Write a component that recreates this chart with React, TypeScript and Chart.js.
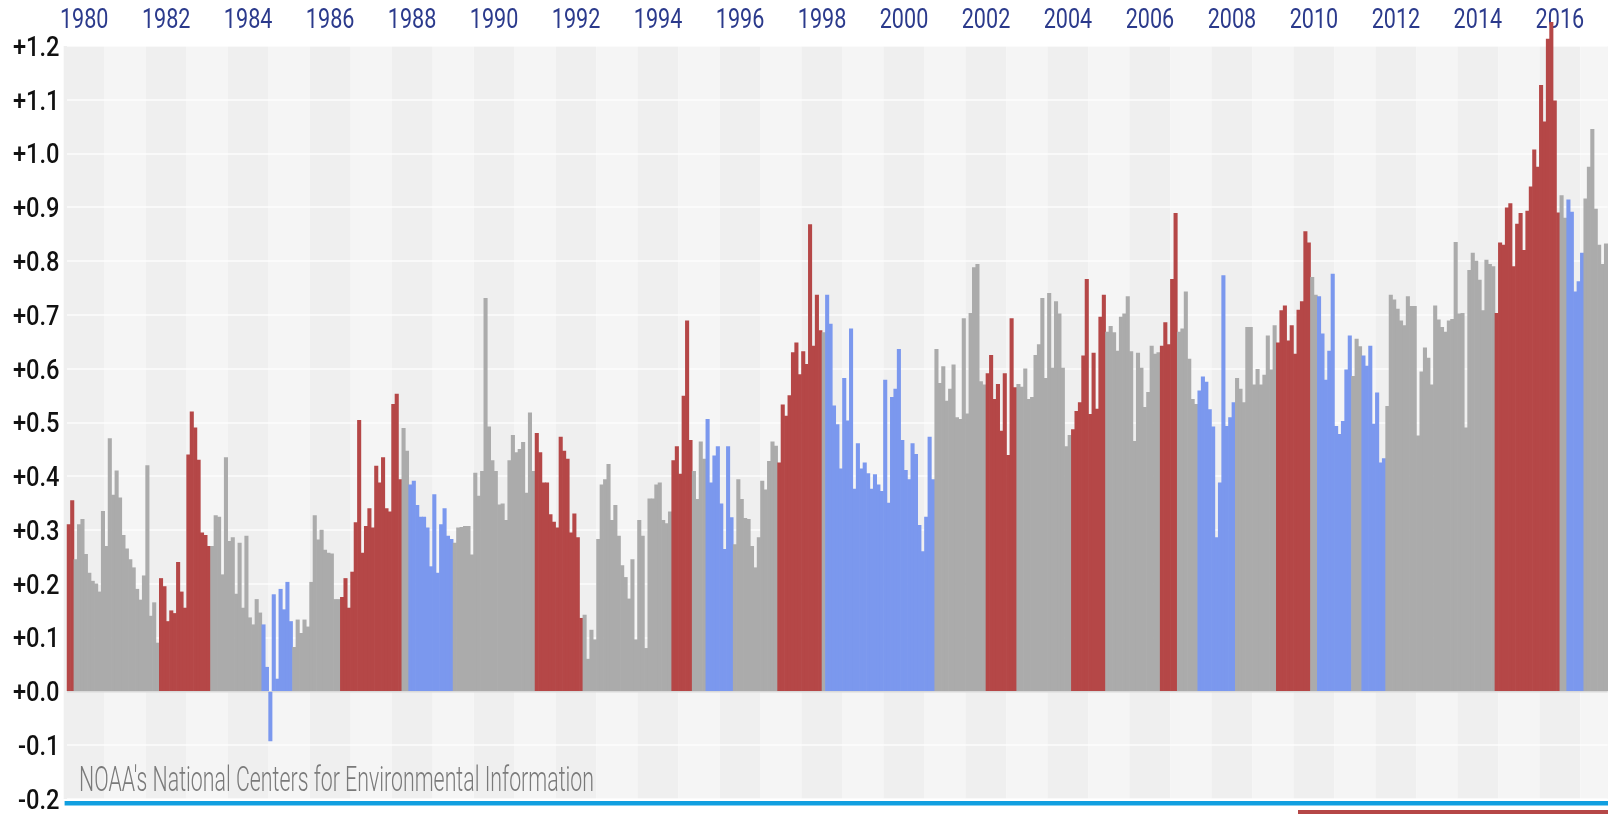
import React, { useEffect, useRef } from "react";
import { Chart, registerables } from "chart.js";

Chart.register(...registerables);

// Global land+ocean monthly temperature anomalies (°C), Jan 1980 onward
const FIRST_YEAR = 1980;

const anomalies1980s = [
  0.31, 0.355, 0.245, 0.31, 0.32, 0.255, 0.22, 0.205, 0.2, 0.185, 0.335, 0.27,
  0.47, 0.365, 0.41, 0.36, 0.29, 0.265, 0.245, 0.23, 0.19, 0.17, 0.215, 0.42,
  0.14, 0.165, 0.09, 0.21, 0.195, 0.13, 0.15, 0.145, 0.24, 0.185, 0.155, 0.44,
  0.52, 0.49, 0.43, 0.295, 0.29, 0.27, 0.27, 0.327, 0.324, 0.217, 0.435, 0.279,
  0.286, 0.181, 0.276, 0.155, 0.289, 0.137, 0.124, 0.171, 0.146, 0.124, 0.045, -0.092,
  0.18, 0.023, 0.19, 0.152, 0.203, 0.13, 0.082, 0.133, 0.108, 0.133, 0.12, 0.203,
  0.327, 0.282, 0.3, 0.263, 0.257, 0.256, 0.171, 0.171, 0.175, 0.21, 0.155, 0.222,
  0.314, 0.504, 0.257, 0.307, 0.34, 0.304, 0.419, 0.388, 0.435, 0.34, 0.334, 0.534,
  0.553, 0.394, 0.489, 0.447, 0.384, 0.391, 0.346, 0.324, 0.324, 0.304, 0.232, 0.366,
  0.22, 0.31, 0.34, 0.289, 0.283, 0.276, 0.304, 0.305, 0.307, 0.307, 0.254, 0.406,
];

const anomalies1990s = [
  0.363, 0.409, 0.731, 0.492, 0.429, 0.409, 0.347, 0.349, 0.318, 0.429, 0.476, 0.444,
  0.45, 0.463, 0.369, 0.518, 0.409, 0.48, 0.444, 0.388, 0.388, 0.329, 0.315, 0.304,
  0.473, 0.447, 0.432, 0.295, 0.33, 0.286, 0.136, 0.142, 0.06, 0.114, 0.096, 0.283,
  0.384, 0.394, 0.422, 0.318, 0.346, 0.289, 0.234, 0.212, 0.172, 0.245, 0.096, 0.318,
  0.289, 0.08, 0.358, 0.358, 0.384, 0.388, 0.318, 0.312, 0.334, 0.429, 0.455, 0.404,
  0.549, 0.689, 0.467, 0.409, 0.357, 0.464, 0.432, 0.506, 0.388, 0.438, 0.455, 0.349,
  0.264, 0.455, 0.323, 0.273, 0.394, 0.357, 0.322, 0.32, 0.27, 0.23, 0.286, 0.391,
  0.375, 0.428, 0.464, 0.456, 0.425, 0.533, 0.512, 0.55, 0.63, 0.648, 0.589, 0.632,
  0.608, 0.868, 0.642, 0.737, 0.671, 0.667, 0.737, 0.683, 0.531, 0.496, 0.414, 0.582,
  0.503, 0.674, 0.376, 0.461, 0.414, 0.425, 0.405, 0.376, 0.403, 0.384, 0.372, 0.579,
];

const anomalies2000s = [
  0.35, 0.547, 0.562, 0.636, 0.467, 0.411, 0.394, 0.461, 0.441, 0.309, 0.26, 0.324,
  0.473, 0.394, 0.636, 0.573, 0.604, 0.54, 0.562, 0.607, 0.509, 0.506, 0.693, 0.516,
  0.703, 0.788, 0.794, 0.576, 0.57, 0.591, 0.625, 0.543, 0.571, 0.484, 0.591, 0.439,
  0.693, 0.565, 0.571, 0.566, 0.6, 0.543, 0.547, 0.625, 0.645, 0.731, 0.582, 0.74,
  0.601, 0.725, 0.702, 0.601, 0.455, 0.476, 0.487, 0.521, 0.537, 0.624, 0.766, 0.515,
  0.629, 0.525, 0.696, 0.737, 0.668, 0.679, 0.667, 0.633, 0.696, 0.702, 0.734, 0.632,
  0.465, 0.629, 0.601, 0.528, 0.556, 0.642, 0.627, 0.63, 0.642, 0.686, 0.645, 0.766,
  0.889, 0.668, 0.674, 0.743, 0.618, 0.543, 0.534, 0.559, 0.585, 0.575, 0.524, 0.492,
  0.286, 0.388, 0.773, 0.493, 0.509, 0.537, 0.582, 0.562, 0.537, 0.677, 0.677, 0.57,
  0.599, 0.57, 0.588, 0.661, 0.598, 0.68, 0.648, 0.708, 0.717, 0.652, 0.68, 0.627,
];

const anomalies2010s = [
  0.709, 0.725, 0.855, 0.834, 0.77, 0.737, 0.734, 0.665, 0.579, 0.633, 0.776, 0.493,
  0.478, 0.502, 0.598, 0.661, 0.586, 0.655, 0.641, 0.624, 0.605, 0.642, 0.497, 0.555,
  0.425, 0.433, 0.53, 0.737, 0.728, 0.711, 0.689, 0.68, 0.734, 0.716, 0.716, 0.475,
  0.594, 0.639, 0.62, 0.57, 0.717, 0.691, 0.677, 0.668, 0.689, 0.692, 0.835, 0.702,
  0.703, 0.49, 0.783, 0.815, 0.8, 0.765, 0.708, 0.802, 0.794, 0.79, 0.703, 0.834,
  0.83, 0.899, 0.907, 0.79, 0.869, 0.889, 0.82, 0.893, 0.938, 1.007, 0.975, 1.127,
  1.059, 1.213, 1.244, 1.098, 0.89, 0.922, 0.88, 0.914, 0.891, 0.743, 0.762, 0.815,
  0.916, 0.975, 1.045, 0.897, 0.83, 0.794, 0.832,
];

// ENSO phases (first month, last month)
const elNinoPeriods: [string, string][] = [
  ["1980-01", "1980-02"], ["1982-04", "1983-06"], ["1986-09", "1988-02"],
  ["1991-06", "1992-07"], ["1994-10", "1995-03"], ["1997-05", "1998-05"],
  ["2002-06", "2003-02"], ["2004-07", "2005-04"], ["2006-09", "2007-01"],
  ["2009-07", "2010-04"], ["2014-11", "2016-05"],
];
const laNinaPeriods: [string, string][] = [
  ["1984-10", "1985-06"], ["1988-05", "1989-05"], ["1995-08", "1996-03"],
  ["1998-07", "2001-02"], ["2007-08", "2008-06"], ["2010-07", "2011-04"],
  ["2011-08", "2012-02"], ["2016-08", "2016-12"],
];

const yTickValues = [-0.2, -0.1, 0, 0.1, 0.2, 0.3, 0.4, 0.5, 0.6, 0.7, 0.8, 0.9, 1.0, 1.1, 1.2];
const yearTickLabels = ["1980", "1982", "1984", "1986", "1988", "1990", "1992", "1994", "1996", "1998",
  "2000", "2002", "2004", "2006", "2008", "2010", "2012", "2014", "2016"];
const sourceText = "NOAA's National Centers for Environmental Information";

const COLOR_NINO = "#b54747";
const COLOR_NINA = "#7b98ee";
const COLOR_NEUTRAL = "#ababab";
const FONT = "Roboto, 'Liberation Sans', sans-serif";

const anomalies = [...anomalies1980s, ...anomalies1990s, ...anomalies2000s, ...anomalies2010s];
const months: string[] = anomalies.map((_, i) => {
  const y = FIRST_YEAR + Math.floor(i / 12);
  const m = (i % 12) + 1;
  return `${y}-${m < 10 ? "0" : ""}${m}`;
});

const inPeriods = (label: string, periods: [string, string][]) =>
  periods.some(([a, b]) => label >= a && label <= b);

const barColors = months.map((mo) =>
  inPeriods(mo, elNinoPeriods) ? COLOR_NINO : inPeriods(mo, laNinaPeriods) ? COLOR_NINA : COLOR_NEUTRAL
);

const fmtTick = (n: number) => {
  const s = Math.abs(n).toFixed(1);
  return n < -1e-9 ? "-" + s : "+" + s;
};

function drawCondensed(ctx: CanvasRenderingContext2D, text: string, x: number, y: number, sx: number, align: CanvasTextAlign) {
  ctx.save();
  ctx.translate(x, y);
  ctx.scale(sx, 1);
  ctx.textAlign = align;
  ctx.fillText(text, 0, 0);
  ctx.restore();
}

const chartDecor = {
  id: "chartDecor",
  beforeDraw(chart: any) {
    const { ctx, chartArea } = chart;
    const xs = chart.scales.x;
    const slot = xs.getPixelForValue(1) - xs.getPixelForValue(0);
    const years = Math.ceil(months.length / 12) + 1;
    ctx.save();
    for (let k = 0; k < years; k++) {
      const x0 = xs.getPixelForValue(12 * k - 1) - slot / 2;
      const x1 = xs.getPixelForValue(12 * k + 11) - slot / 2;
      const l = Math.max(x0, chartArea.left - slot);
      const r = Math.min(x1, chart.width);
      if (r <= l) continue;
      ctx.fillStyle = k % 2 === 0 ? "#efefef" : "#f5f5f5";
      ctx.fillRect(l, chartArea.top, r - l, chartArea.bottom - chartArea.top);
    }
    ctx.restore();
  },
  beforeDatasetsDraw(chart: any) {
    const { ctx } = chart;
    const xs = chart.scales.x;
    const ys = chart.scales.y;
    const slot = xs.getPixelForValue(1) - xs.getPixelForValue(0);
    ctx.save();
    ctx.textBaseline = "alphabetic";
    // year labels on top
    ctx.font = `27px ${FONT}`;
    ctx.fillStyle = "#2b3a8c";
    yearTickLabels.forEach((lab) => {
      const k = Number(lab) - FIRST_YEAR;
      const x = xs.getPixelForValue(12 * k + 5) - slot / 2;
      drawCondensed(ctx, lab, x, 28.2, 0.8, "center");
    });
    // value labels on the left
    ctx.font = `500 27.5px ${FONT}`;
    ctx.fillStyle = "#111111";
    yTickValues.forEach((v) => {
      const y = ys.getPixelForValue(v);
      drawCondensed(ctx, fmtTick(v), 59.5, y + 9.8, 0.86, "right");
    });
    ctx.restore();
  },
  afterDraw(chart: any) {
    const { ctx, chartArea } = chart;
    ctx.save();
    // bottom rule and legend strip
    ctx.fillStyle = "#119fe0";
    ctx.fillRect(chartArea.left - 2.5, chartArea.bottom + 2, chart.width - chartArea.left + 2.5, 4.5);
    ctx.fillStyle = COLOR_NINO;
    ctx.fillRect(1298, chartArea.bottom + 11, chart.width - 1298, 6);
    // source text
    ctx.font = `300 35px ${FONT}`;
    ctx.fillStyle = "#7a7a7a";
    ctx.textBaseline = "alphabetic";
    const w = ctx.measureText(sourceText).width;
    drawCondensed(ctx, sourceText, 79, 791, 515 / w, "left");
    ctx.restore();
  },
};

export default function App() {
  const canvasRef = useRef<HTMLCanvasElement>(null);

  useEffect(() => {
    if (!canvasRef.current) return;
    const chart = new Chart(canvasRef.current, {
      type: "bar",
      data: {
        labels: months,
        datasets: [
          {
            data: anomalies,
            backgroundColor: barColors,
            borderWidth: 0,
            barPercentage: 1,
            categoryPercentage: 1,
            clip: false as any,
          },
        ],
      },
      options: {
        animation: false,
        responsive: false,
        devicePixelRatio: 1,
        layout: { padding: { top: 0, left: 0, right: 0.3, bottom: 15 } },
        plugins: { legend: { display: false }, tooltip: { enabled: false } },
        scales: {
          x: {
            type: "category",
            position: "top",
            grid: { display: false, drawTicks: false },
            border: { display: false },
            ticks: { display: false },
            afterFit: (scale: any) => {
              scale.height = 46;
            },
          },
          y: {
            min: -0.2,
            max: 1.2,
            afterFit: (scale: any) => {
              scale.width = 67.1;
            },
            afterBuildTicks: (scale: any) => {
              scale.ticks = yTickValues.map((v) => ({ value: v }));
            },
            grid: {
              drawTicks: false,
              color: (c: any) => (Math.abs(c.tick?.value ?? 1) < 1e-9 ? "#d9d9d9" : "rgba(255,255,255,0.6)"),
              lineWidth: (c: any) => (Math.abs(c.tick?.value ?? 1) < 1e-9 ? 1.5 : 2),
            },
            border: { display: false },
            ticks: { display: false },
          },
        },
      },
      plugins: [chartDecor],
    });
    return () => chart.destroy();
  }, []);

  return (
    <div
      style={{
        position: "fixed",
        left: 0,
        top: 0,
        width: 1608,
        height: 814,
        overflow: "hidden",
        background: "#ffffff",
      }}
    >
      <canvas ref={canvasRef} width={1608} height={814} style={{ display: "block", width: 1608, height: 814 }} />
    </div>
  );
}
